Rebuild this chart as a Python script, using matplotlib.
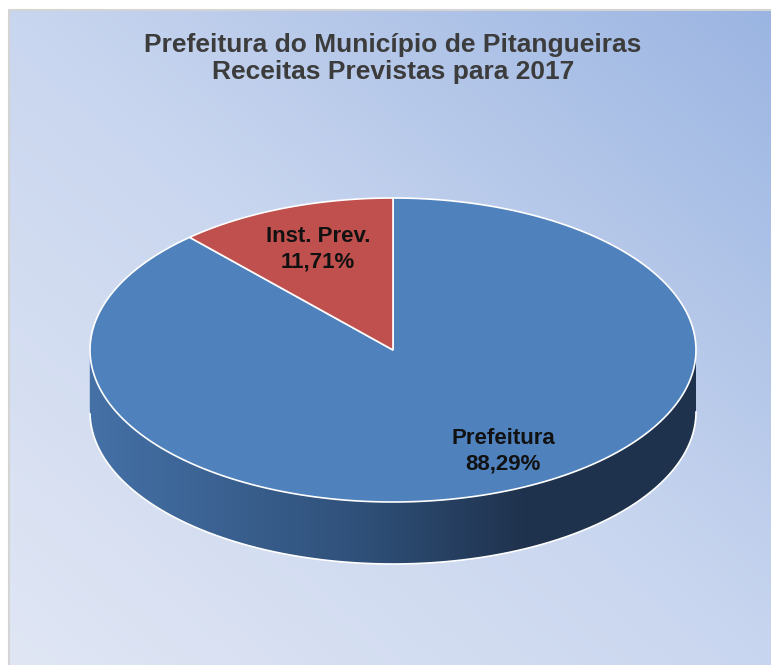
import numpy as np
import matplotlib.pyplot as plt
from matplotlib.colors import LinearSegmentedColormap
from matplotlib.patches import Polygon

plt.rcParams["font.family"] = ["Liberation Sans", "DejaVu Sans"]

# data
categories = ["Prefeitura", "Inst. Prev."]
shares = [88.29, 11.71]
pct_labels = ["88,29%", "11,71%"]
title_lines = ["Prefeitura do Município de Pitangueiras", "Receitas Previstas para 2017"]

# look
slice_colors = ["#4f81bd", "#c0504d"]
label_xy = [(503, 451), (318, 249)]   # pixel centres of the two-line slice labels
W, H = 771, 665
CX, CY, RX, RY, DEPTH = 393, 350, 303, 152, 62


def ellipse_pts(t0, t1, n=200, dy=0.0):
    t = np.radians(np.linspace(t0, t1, n))
    return np.column_stack([CX + RX * np.cos(t), CY - RY * np.sin(t) + dy])


fig = plt.figure(figsize=(W / 100, H / 100), dpi=100)
fig.patch.set_facecolor("white")
ax = fig.add_axes([0, 0, 1, 1])
ax.set_xlim(0, W)
ax.set_ylim(H, 0)
ax.axis("off")

# background gradient (light bottom-left -> blue top-right)
bg_cmap = LinearSegmentedColormap.from_list(
    "bg", [(0.0, "#e0e6f4"), (0.5, "#c9d6ef"), (1.0, "#9bb5e2")])
gx, gy = np.meshgrid(np.linspace(0, 1, 300), np.linspace(0, 1, 300))
ax.imshow((gx + (1 - gy)) / 2, cmap=bg_cmap, extent=[9, W, H, 10], origin="upper",
          aspect="auto", zorder=0)
# chart-area border shows only on the left and top (the rest is cropped)
ax.plot([9, 9, W], [H, 10, 10], color="#d4d4d4", lw=1.5, zorder=1)

# slice angles, clockwise from 12 o'clock
fracs = np.array(shares) / sum(shares)
ends = 90 - np.cumsum(fracs) * 360
starts = np.concatenate([[90], ends[:-1]])

# side wall (front half only, belongs to the first slice)
side = np.vstack([ellipse_pts(180, 360), ellipse_pts(360, 180, dy=DEPTH)])
side_patch = Polygon(side, closed=True, fc="none", ec="none", zorder=2)
ax.add_patch(side_patch)
side_cmap = LinearSegmentedColormap.from_list(
    "side", [(0.0, "#4571a7"), (0.45, "#2f5079"), (0.72, "#1f324d"), (1.0, "#1f324d")])
im = ax.imshow(np.linspace(0, 1, 256)[None, :], cmap=side_cmap,
               extent=[CX - RX, CX + RX, CY + RY + DEPTH, CY], aspect="auto", zorder=2)
im.set_clip_path(side_patch)
ax.plot(*ellipse_pts(180, 360, dy=DEPTH).T, color="white", lw=1.2, zorder=3)
ax.plot([CX - RX, CX - RX], [CY, CY + DEPTH], color="#4571a7", lw=1, zorder=3)

# top faces
for s, e, c in zip(starts, ends, slice_colors):
    pts = np.vstack([[CX, CY], ellipse_pts(s, e)])
    ax.add_patch(Polygon(pts, closed=True, fc=c, ec="white", lw=1.2, zorder=4))

# labels, one text per line
for (x, y), name, pct in zip(label_xy, categories, pct_labels):
    for dy, txt in ((-13, name), (13, pct)):
        ax.text(x, y + dy, txt, ha="center", va="center", fontsize=16,
                fontweight="bold", color="#111111", zorder=5)

for y, line in zip((45, 72), title_lines):
    ax.text(CX, y, line, ha="center", va="center", fontsize=19,
            fontweight="bold", color="#3c3c3c", zorder=5)

fig.savefig("out.png", dpi=100)
